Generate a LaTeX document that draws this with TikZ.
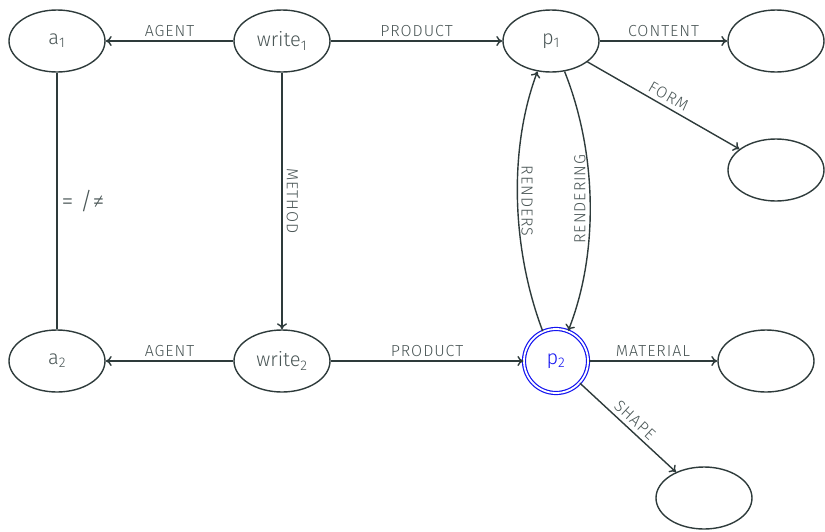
\documentclass[tikz,border=0pt]{standalone}
\usepackage{fontspec}
\setmainfont{Fira Sans}[UprightFont=* Light]
\usetikzlibrary{arrows.meta,shapes.geometric}
\definecolor{linec}{HTML}{2E3B3B}
\definecolor{textc}{HTML}{4A5656}
\definecolor{bluec}{HTML}{1414F0}
\tikzset{
  ent/.style={ellipse, draw=linec, line width=1.4pt, minimum width=96pt, minimum height=62pt, inner sep=0pt, text=textc, font=\fontsize{20}{22}\selectfont},
  focus/.style={circle, draw=bluec, double, double distance=1.8pt, line width=1.2pt, minimum size=64pt, inner sep=0pt, text=bluec, font=\fontsize{20}{22}\selectfont},
  conn/.style={line width=1.4pt, draw=linec, -{To[length=6pt,width=10pt]}},
  plain/.style={line width=1.4pt, draw=linec},
  lab/.style={text=textc, font=\fontsize{16}{18}\selectfont\addfontfeatures{LetterSpace=6}, inner sep=4pt},
}
\begin{document}
\begin{tikzpicture}[x=1pt,y=-1pt]
\useasboundingbox (0,0) rectangle (825,531);
\node[ent] (a1) at (57,41) {a\textsubscript{1}};
\node[ent] (w1) at (282,41) {write\textsubscript{1}};
\node[ent] (p1) at (551,41) {p\textsubscript{1}};
\node[ent] (c1) at (776,41) {};
\node[ent] (f1) at (776,170) {};
\node[ent] (a2) at (57,361) {a\textsubscript{2}};
\node[ent] (w2) at (282,361) {write\textsubscript{2}};
\node[focus] (p2) at (556,361) {p\textsubscript{2}};
\node[ent] (m2) at (766,361) {};
\node[ent] (s2) at (704,498) {};

\draw[conn] (w1) -- node[lab, midway, above] {AGENT} (a1);
\draw[conn] (w1) -- node[lab, midway, above] {PRODUCT} (p1);
\draw[conn] (p1) -- node[lab, midway, above] {CONTENT} (c1);
\draw[conn] (p1) -- node[lab, midway, above, sloped] {FORM} (f1);
\draw[conn] (w1) -- node[lab, midway, above, sloped] {METHOD} (w2);
\draw[plain] (a1) -- node[midway, right, text=textc, inner sep=4pt, font=\fontsize{24}{26}\selectfont] {= /≠} (a2);
\draw[conn] (w2) -- node[lab, midway, above] {AGENT} (a2);
\draw[conn] (w2) -- node[lab, midway, above] {PRODUCT} (p2);
\draw[conn] (p2) -- node[lab, midway, above] {MATERIAL} (m2);
\draw[conn] (p2) -- node[lab, midway, above, sloped] {SHAPE} (s2);
\draw[conn] (p2.114) .. controls (512,250) and (508,150) .. (p1.246);
\draw[conn] (p1.294) .. controls (596,150) and (600,250) .. (p2.68);
\node[lab, rotate=-90] (rl) at (527,201) {RENDERS};
\node[lab, rotate=90] (rg) at (580,199) {RENDERING};
\end{tikzpicture}
\end{document}
